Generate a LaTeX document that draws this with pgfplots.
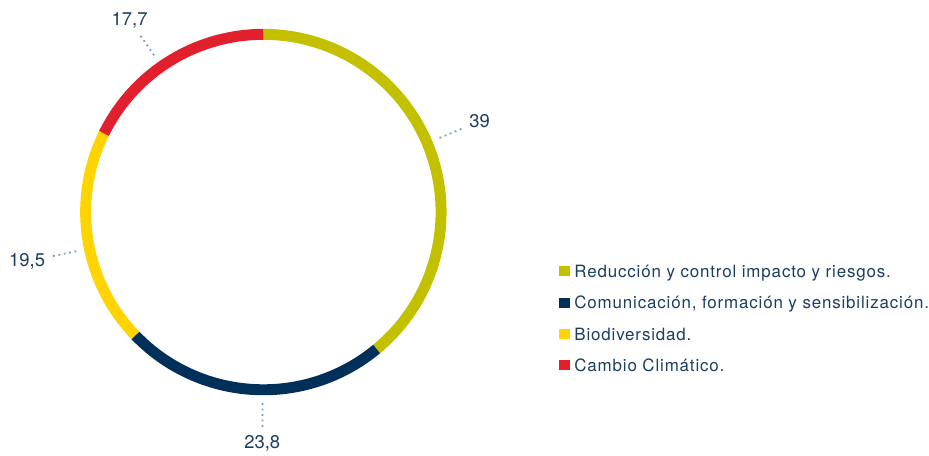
\documentclass[border=0pt]{standalone}
\usepackage{pgfplots}
\pgfplotsset{compat=1.18}
\usepackage{pgfplotstable}
\usepackage{fontspec}
\setmainfont{TeX Gyre Heros}
\newfontfamily\legfont[LetterSpace=5]{TeX Gyre Heros}
\definecolor{cgreen}{HTML}{C3C000}
\definecolor{cnavy}{HTML}{00305A}
\definecolor{cyellow}{HTML}{FFD400}
\definecolor{cred}{HTML}{E21F2C}
\definecolor{ctext}{HTML}{1B3D62}
\definecolor{cdot}{HTML}{7F9BB3}

\pgfplotstableread{
value color
39.0 cgreen
23.8 cnavy
19.5 cyellow
17.7 cred
}\slices

\expandafter\def\csname leg0\endcsname{Reducción y control impacto y riesgos.}
\expandafter\def\csname leg1\endcsname{Comunicación, formación y sensibilización.}
\expandafter\def\csname leg2\endcsname{Biodiversidad.}
\expandafter\def\csname leg3\endcsname{Cambio Climático.}

\begin{document}
\def\cumul{0}%
\pgfplotsforeachungrouped \i in {0,...,3}{%
  \pgfplotstablegetelem{\i}{value}\of\slices
  \let\v\pgfplotsretval
  \expandafter\xdef\csname val\i\endcsname{\v}%
  \pgfmathsetmacro\sa{90-3.6*\cumul}%
  \pgfmathsetmacro\cumul{\cumul+\v}%
  \pgfmathsetmacro\ea{90-3.6*\cumul}%
  \pgfmathsetmacro\ma{(\sa+\ea)/2+3}%
  \pgfmathsetmacro\la{\ma+180}%
  \expandafter\xdef\csname sa\i\endcsname{\sa}%
  \expandafter\xdef\csname ea\i\endcsname{\ea}%
  \expandafter\xdef\csname ma\i\endcsname{\ma}%
  \expandafter\xdef\csname la\i\endcsname{\la}%
  \pgfplotstablegetelem{\i}{color}\of\slices
  \expandafter\xdef\csname col\i\endcsname{\pgfplotsretval}%
}%
\begin{tikzpicture}
\begin{axis}[x=1pt,y=1pt,xmin=0,xmax=929,ymin=0,ymax=456,hide axis,clip=false]
\path (axis cs:0,0) rectangle (axis cs:929,456);
\pgfplotsinvokeforeach{0,...,3}{%
  \draw[line width=11pt, draw=\csname col#1\endcsname]
    ([shift={(\csname sa#1\endcsname:178.5pt)}]axis cs:264.5,243)
    arc[start angle=\csname sa#1\endcsname, end angle=\csname ea#1\endcsname, radius=178.5pt];
  \draw[cdot, line width=1.8pt, dash pattern=on 1.8pt off 3.7pt]
    ([shift={(\csname ma#1\endcsname:192pt)}]axis cs:264.5,243) --
    ([shift={(\csname ma#1\endcsname:218pt)}]axis cs:264.5,243)
    node[anchor=\csname la#1\endcsname, inner sep=5pt, text=ctext, font=\fontsize{18.5}{20}\selectfont]
    {\pgfmathprintnumber[use comma, assume math mode=true]{\csname val#1\endcsname}};
  \fill[fill=\csname col#1\endcsname] (axis cs:561.7,{178.5-31.5*#1}) rectangle (axis cs:572.7,{188.5-31.5*#1});
  \node[anchor=base west, inner sep=0pt, text=ctext, font=\legfont\fontsize{17}{20}\selectfont]
    at (axis cs:576.7,{177.2-31.5*#1}) {\csname leg#1\endcsname};
}
\end{axis}
\end{tikzpicture}
\end{document}
